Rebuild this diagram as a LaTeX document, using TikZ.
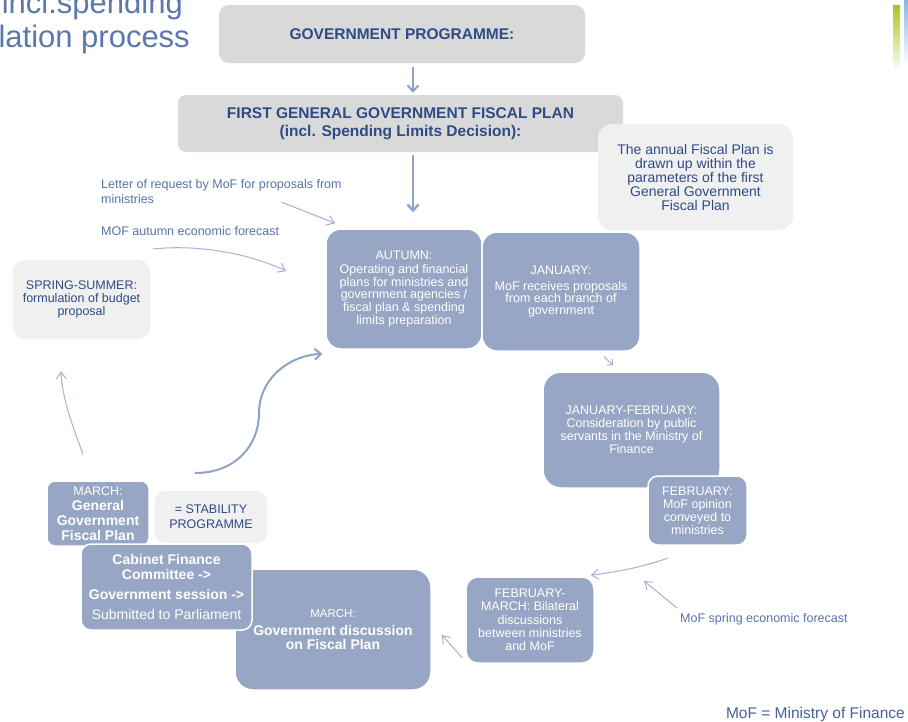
\documentclass[tikz,border=0pt]{standalone}
\usepackage{fontspec}
\setmainfont{Liberation Sans}
\usetikzlibrary{arrows.meta}

\definecolor{boxblue}{HTML}{97A6C4}
\definecolor{boxgray}{HTML}{D9D9D9}
\definecolor{notegray}{HTML}{F0F0F0}
\definecolor{navy}{HTML}{2F4B85}
\definecolor{labelblue}{HTML}{5A72A6}
\definecolor{footblue}{HTML}{45609A}
\definecolor{linkblue}{HTML}{8FA2C8}
\definecolor{hintblue}{HTML}{A4B2D3}
\definecolor{titleblue}{HTML}{5B77AE}
\definecolor{bargreen}{HTML}{A5C81E}
\definecolor{barblue}{HTML}{86B4E8}

\newcommand\fsz[2]{\fontsize{#1}{#2}\selectfont}

\tikzset{
  phase/.style={fill=boxblue, draw=white, line width=1.5pt, text=white,
    align=center, inner sep=0pt, font=\fsz{12.5}{11.5}},
  headbox/.style={fill=boxgray, text=navy, align=center, inner sep=0pt,
    font=\bfseries\fsz{15.5}{18}},
  notebox/.style={fill=notegray, text=navy, align=center, inner sep=0pt},
  sidelabel/.style={text=labelblue, align=left, inner sep=0pt,
    font=\fsz{12.5}{15}},
  flow/.style={draw=linkblue, line width=2pt,
    -{Straight Barb[length=6pt,width=11pt]}},
  hint/.style={draw=hintblue, line width=1pt,
    -{Straight Barb[length=7pt,width=10pt]}},
}

\begin{document}
\begin{tikzpicture}[x=1pt, y=-1pt]
\useasboundingbox (0,0) rectangle (908,721);

% heading fragment, top left
\node[anchor=base east, inner sep=0pt, text=titleblue, font=\fsz{31}{35}]
  (title1) at (183,13) {incl.spending};
\node[anchor=base east, inner sep=0pt, text=titleblue, font=\fsz{31}{35}]
  (title2) at (190,47) {lation process};

% corner bars
\shade[top color=bargreen, middle color=bargreen!75!white, bottom color=white]
  (893,5) rectangle (900,72);
\shade[top color=barblue, bottom color=white] (904,0) rectangle (908,64);

% top of the chain
\node[headbox, rounded corners=10pt, minimum width=366pt, minimum height=58pt]
  (gp) at (402,34) {GOVERNMENT PROGRAMME:};
\node[headbox, rounded corners=8pt, minimum width=445pt, minimum height=57pt]
  (fp) at (400.5,123.5) {FIRST GENERAL GOVERNMENT FISCAL PLAN\\(incl. Spending Limits Decision):};
\node[notebox, rounded corners=14pt, minimum width=195pt, minimum height=106pt,
  font=\fsz{14}{14}]
  (note) at (695.5,177) {The annual Fiscal Plan is\\drawn up within the\\parameters of the first\\General Government\\Fiscal Plan};

\draw[flow] ([xshift=11pt,yshift=-4pt]gp.south) -- ([xshift=12.5pt,yshift=2pt]fp.north);

% side notes
\node[sidelabel, anchor=north west] (letter) at (101,179)
  {Letter of request by MoF for proposals from\\ministries};
\node[sidelabel, anchor=north west] (autumnfc) at (101,226)
  {MOF autumn economic forecast};
\node[sidelabel, anchor=north west] (springfc) at (680,613)
  {MoF spring economic forecast};

% yearly cycle
\node[notebox, rounded corners=12pt, minimum width=137pt, minimum height=79pt,
  font=\fsz{12.5}{13}]
  (spring) at (81.5,299.5) {SPRING-SUMMER:\\formulation of budget\\proposal};

\node[phase, rounded corners=15pt, minimum width=156pt, minimum height=120pt]
  (autumn) at (404,289) {AUTUMN:\\[2pt]Operating and financial\\plans for ministries and\\government agencies /\\fiscal plan \& spending\\limits preparation};
\node[phase, rounded corners=15pt, minimum width=158pt, minimum height=119pt]
  (january) at (561,291.5) {JANUARY:\\[4pt]MoF receives proposals\\from each branch of\\government};

\node[phase, rounded corners=18pt, minimum width=177pt, minimum height=116pt,
  font=\fsz{12.5}{13}]
  (janfeb) at (631.5,430) {JANUARY-FEBRUARY:\\Consideration by public\\servants in the Ministry of\\Finance};
\node[phase, rounded corners=10pt, minimum width=99pt, minimum height=69pt,
  font=\fsz{12.5}{13}]
  (feb) at (697.5,510.5) {FEBRUARY:\\MoF opinion\\conveyed to\\ministries};

\node[phase, rounded corners=12pt, minimum width=128pt, minimum height=86pt,
  font=\fsz{12.5}{13.3}]
  (febmar) at (530,620) {FEBRUARY-\\MARCH: Bilateral\\discussions\\between ministries\\and MoF};

\node[phase, rounded corners=18pt, minimum width=196pt, minimum height=121pt,
  font=\fsz{14}{14}]
  (mardisc) at (333,629.5) {{\fsz{11.5}{14}MARCH:}\\[4pt]\textbf{Government discussion}\\\textbf{on Fiscal Plan}};

\node[phase, rounded corners=8pt, minimum width=102pt, minimum height=65pt,
  font=\fsz{14}{15}]
  (marfp) at (98,513.5) {{\fsz{12.5}{15}MARCH:}\\\textbf{General}\\\textbf{Government}\\\textbf{Fiscal Plan}};
\node[notebox, rounded corners=10pt, minimum width=112pt, minimum height=52pt,
  font=\fsz{12.5}{15}]
  (stab) at (211,517) {= STABILITY\\PROGRAMME};

\node[phase, rounded corners=10pt, minimum width=171pt, minimum height=86pt,
  font=\fsz{14}{15}]
  (cabinet) at (166.5,587) {\textbf{Cabinet Finance}\\\textbf{Committee ->}\\[5pt]\textbf{Government session ->}\\[5pt]Submitted to Parliament};

% free ends of the connectors
\coordinate (letterTail) at (281,202);
\coordinate (autumnfcTail) at (153,249);
\coordinate (febTail) at (668,558);
\coordinate (springTail) at (83,454);
\coordinate (cycleTail) at (195,473);

% connectors
\draw[flow, line width=2.4pt] ([xshift=12.5pt,yshift=-3pt]fp.south)
  -- ([xshift=9pt,yshift=16pt]autumn.north);
\draw[hint] (letterTail) -- ([xshift=10pt,yshift=5pt]autumn.north west);
\draw[hint] (autumnfcTail) .. controls (200,244) and (250,254)
  .. ([xshift=-39pt,yshift=18pt]autumn.west);
\draw[hint, -{Straight Barb[length=4pt,width=8pt]}]
  ([xshift=43pt,yshift=-5pt]january.south) -- ([xshift=-18.5pt,yshift=6pt]janfeb.north);
\draw[hint] (febTail) .. controls (640,568) and (615,572)
  .. ([xshift=-4pt,yshift=1pt]febmar.north east);
\draw[hint] ([xshift=-3pt,yshift=5pt]springfc.north west)
  -- ([xshift=-36pt,yshift=32pt]springfc.north west);
\draw[hint] ([xshift=-3pt,yshift=6pt]febmar.south west)
  -- ([xshift=10pt,yshift=-5.5pt]mardisc.east);
\draw[hint] (springTail) .. controls (70,420) and (62,395)
  .. ([xshift=-20.5pt,yshift=-32pt]spring.south);
\draw[flow] (cycleTail) .. controls (236,473) and (259,445) .. (259,413)
  .. controls (259,381) and (286,356) .. ([xshift=-3pt,yshift=-4pt]autumn.south west);

% footnote
\node[anchor=base east, inner sep=0pt, text=footblue, font=\fsz{15.5}{18}]
  (footnote) at (905,718) {MoF = Ministry of Finance};
\end{tikzpicture}
\end{document}
